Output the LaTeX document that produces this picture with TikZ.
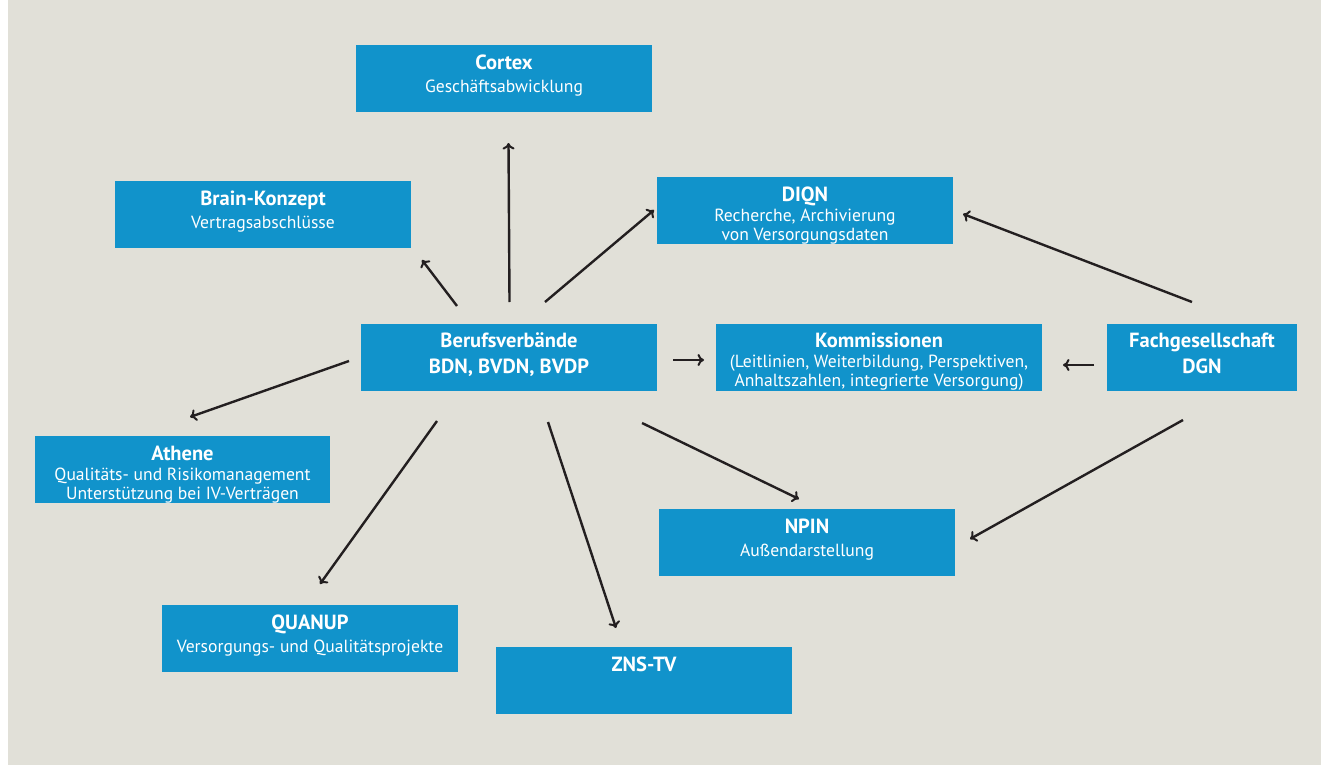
\documentclass[tikz,border=0pt]{standalone}
\usepackage{fontspec}
\setmainfont{PT Sans}
\usetikzlibrary{arrows.meta}
\definecolor{bgc}{HTML}{E1E0D8}
\definecolor{boxc}{HTML}{1193CB}
\definecolor{arc}{HTML}{231F20}
\newcommand\ttlf{\fontsize{20.5}{22}\selectfont\bfseries}
\newcommand\subf{\fontsize{17.6}{19.5}\selectfont}
\begin{document}
\begin{tikzpicture}[x=1pt,y=-1pt,
  box/.style={fill=boxc,draw=none,minimum height=67pt,minimum width=296pt,inner sep=0pt,outer sep=0pt},
  txt/.style={text=white,align=center,anchor=north,inner sep=0pt,font=\subf},
  arr/.style={draw=arc,line width=2.4pt,-{To[length=6.5pt,width=12pt,line width=2pt]}}]
\useasboundingbox (0,0) rectangle (1321,765);
\fill[white] (0,0) rectangle (8,765);
\fill[bgc] (8,0) rectangle (1321,765);
% boxes
\node[box] (cortex) at (504,78.5) {};
\node[box] (brain) at (263,214.5) {};
\node[box] (diqn) at (805,210.5) {};
\node[box] (beruf) at (509,357.5) {};
\node[box,minimum width=326pt] (komm) at (879,357.5) {};
\node[box,minimum width=190pt] (fach) at (1202,357.5) {};
\node[box,minimum width=295pt] (athene) at (182.5,469.5) {};
\node[box] (quanup) at (310,638.5) {};
\node[box] (zns) at (644,680.5) {};
\node[box] (npin) at (807,542.5) {};
% texts
\node[txt] (cortexT) at ([yshift=-10]cortex.north) {{\ttlf Cortex}\\[3pt]Geschäftsabwicklung};
\node[txt] (brainT) at ([yshift=-10]brain.north) {{\ttlf Brain-Konzept}\\[3pt]Vertragsabschlüsse};
\node[txt] (diqnT) at ([yshift=-10]diqn.north) {{\ttlf DIQN}\\Recherche, Archivierung\\von Versorgungsdaten};
\node[txt,font=\ttlf] (berufT) at ([yshift=-9]beruf.north) {Berufsverbände\\[4pt]BDN, BVDN, BVDP};
\node[txt] (kommT) at ([yshift=-9]komm.north) {{\ttlf Kommissionen}\\(Leitlinien, Weiterbildung, Perspektiven,\\Anhaltszahlen, integrierte Versorgung)};
\node[txt,font=\ttlf] (fachT) at ([yshift=-9]fach.north) {Fachgesellschaft\\[4pt]DGN};
\node[txt] (atheneT) at ([yshift=-10]athene.north) {{\ttlf Athene}\\Qualitäts- und Risikomanagement\\Unterstützung bei IV-Verträgen};
\node[txt] (quanupT) at ([yshift=-10]quanup.north) {{\ttlf QUANUP}\\[3pt]Versorgungs- und Qualitätsprojekte};
\node[txt] (znsT) at ([yshift=-10]zns.north) {{\ttlf ZNS-TV}};
\node[txt] (npinT) at ([yshift=-10]npin.north) {{\ttlf NPIN}\\[3pt]Außendarstellung};
% connector ends
\coordinate (s1) at (509.5,302); \coordinate (e1) at (508.5,143);
\coordinate (s2) at (457,306);   \coordinate (e2) at (422,260);
\coordinate (s3) at (545,302);   \coordinate (e3) at (654,210);
\coordinate (s4) at (673,360);   \coordinate (e4) at (704,360);
\coordinate (s5) at (349,361);   \coordinate (e5) at (190,417);
\coordinate (s6) at (437,421);   \coordinate (e6) at (320,584);
\coordinate (s7) at (548,422);   \coordinate (e7) at (616,628);
\coordinate (s8) at (642,423);   \coordinate (e8) at (799,499);
\coordinate (s9) at (1192,302);  \coordinate (e9) at (963,214);
\coordinate (s10) at (1094,365); \coordinate (e10) at (1063,365);
\coordinate (s11) at (1183,420); \coordinate (e11) at (970,539);
\foreach \i in {1,...,11} \draw[arr] (s\i) -- (e\i);
\end{tikzpicture}
\end{document}
